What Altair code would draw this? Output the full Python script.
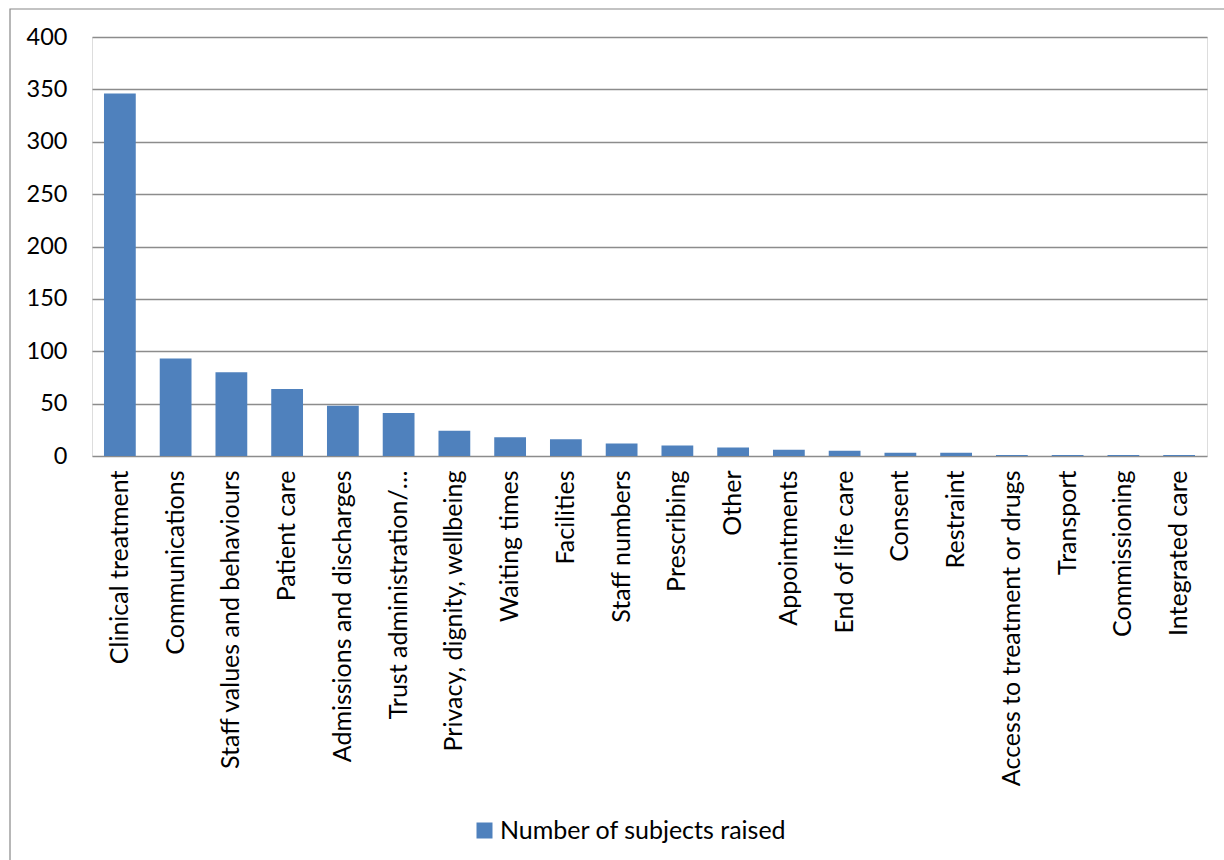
import altair as alt
import pandas as pd

categories = [
    "Clinical treatment", "Communications", "Staff values and behaviours",
    "Patient care", "Admissions and discharges", "Trust administration/…",
    "Privacy, dignity, wellbeing", "Waiting times", "Facilities",
    "Staff numbers", "Prescribing", "Other", "Appointments",
    "End of life care", "Consent", "Restraint",
    "Access to treatment or drugs", "Transport", "Commissioning",
    "Integrated care",
]
values = [346, 93, 80, 64, 48, 41, 24, 18, 16, 12, 10, 8, 6, 5, 3, 3, 1, 1, 1, 1]
series_name = "Number of subjects raised"
y_ticks = [0, 50, 100, 150, 200, 250, 300, 350, 400]

df = pd.DataFrame({"category": categories, "value": values, "series": series_name})

FONT = "Lato"
W, H = 1115, 419
PAD_L, PAD_T = 92, 37

bars = alt.Chart(df).mark_bar(color="#4F81BD").encode(
    x=alt.X(
        "category:N",
        sort=None,
        title=None,
        scale=alt.Scale(paddingInner=0.43, paddingOuter=0.215),
        axis=alt.Axis(
            labelAngle=-90,
            labelFont=FONT,
            labelFontSize=25,
            labelColor="#000000",
            labelPadding=14,
            labelLimit=500,
            ticks=False,
            domain=False,
            grid=False,
        ),
    ),
    y=alt.Y(
        "value:Q",
        title=None,
        scale=alt.Scale(domain=[0, 400], nice=False),
        axis=alt.Axis(
            values=y_ticks,
            labelFont=FONT,
            labelFontSize=23.5,
            labelColor="#000000",
            labelPadding=25,
            ticks=False,
            domain=False,
            grid=True,
            gridColor="#8c8c8c",
            gridWidth=1.4,
        ),
    ),
    color=alt.Color(
        "series:N",
        scale=alt.Scale(range=["#4F81BD"]),
        legend=alt.Legend(
            title=None,
            orient="none",
            legendX=380,
            legendY=781,
            symbolType="square",
            symbolSize=256,
            symbolStrokeWidth=0,
            labelFont=FONT,
            labelFontSize=25,
            labelColor="#000000",
            labelLimit=500,
            labelOffset=3,
        ),
    ),
)

frame = alt.Chart(alt.Data(values=[{}])).mark_rect(
    fill=None, stroke="#888888", strokeWidth=1.2, clip=False
).encode(
    x=alt.value(-82), x2=alt.value(1160),
    y=alt.value(-28), y2=alt.value(860),
)

chart = alt.layer(frame, bars).properties(
    width=W,
    height=H,
    autosize=alt.AutoSizeParams(type="none"),
    padding={"left": PAD_L, "top": PAD_T, "right": 1224 - PAD_L - W, "bottom": 860 - PAD_T - H},
).configure_view(stroke=None).configure(background="white")

chart.save("out.html", embed_options={"renderer": "svg", "actions": False})
